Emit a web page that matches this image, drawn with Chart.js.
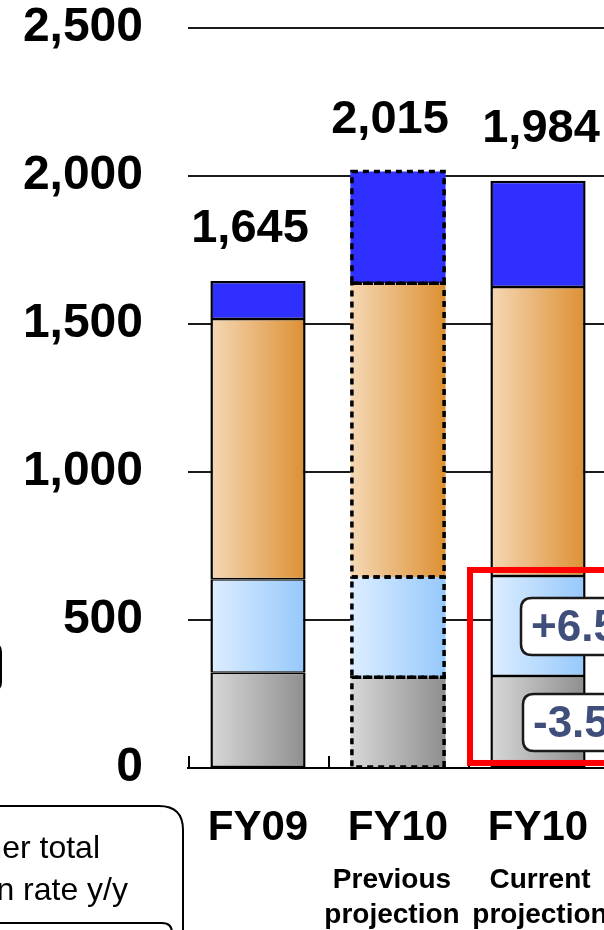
<!DOCTYPE html>
<html>
<head>
<meta charset="utf-8">
<script src="https://cdn.jsdelivr.net/npm/chart.js@4.4.1/dist/chart.umd.min.js"></script>
<style>
  html, body { margin: 0; padding: 0; background: #fff; overflow: hidden; }
  #wrap { width: 604px; height: 930px; overflow: hidden; position: relative; }
  canvas { display: block; }
</style>
</head>
<body>
<div id="wrap"><canvas id="c" width="620" height="960"></canvas></div>
<script>
// ---- data ----
const categories = ['FY09', 'FY10', 'FY10'];
const subLabels = [[], ['Previous', 'projection'], ['Current', 'projection']];
const totals = [1645, 2015, 1984];
const baseSeg = [322, 307, 311];     // grey
const lowerSeg = [316, 338, 338];    // light blue
const middleSeg = [879, 993, 976];   // orange
const topSeg = [128, 377, 359];      // blue
const yTicks = [0, 500, 1000, 1500, 2000, 2500];
const changeLabels = ['+6.5%', '-3.5%'];   // light blue / grey change, current projection

const FONT = "'Liberation Sans', Arial, Helvetica, sans-serif";
Chart.defaults.font.family = FONT;
Chart.defaults.color = '#000';

const PROJ_PREV = 1;   // dotted (previous projection) bar
const PROJ_CUR = 2;    // highlighted bar
const BAR_PCT = 0.68;

function barHalf(chart) {
  const x = chart.scales.x;
  return x.width / categories.length * BAR_PCT / 2;
}

// left-to-right shading across each bar
function hGradient(c0, c1) {
  return (ctx) => {
    const chart = ctx.chart;
    const x = chart.scales && chart.scales.x;
    if (!x || ctx.type !== 'data' || !x.width) return c1;
    const cx = x.getPixelForValue(ctx.dataIndex);
    const h = barHalf(chart);
    const g = chart.ctx.createLinearGradient(cx - h, 0, cx + h, 0);
    g.addColorStop(0, c0);
    g.addColorStop(1, c1);
    return g;
  };
}

function borderFor(isTop) {
  return (ctx) => ctx.dataIndex === PROJ_PREV ? 0
    : { left: 2.5, right: 2.5, top: isTop ? 2.5 : 1.5, bottom: 1.5 };
}

function roundRect(ctx, x, y, w, h, r) {
  ctx.beginPath();
  ctx.moveTo(x + r, y);
  ctx.lineTo(x + w - r, y);
  ctx.quadraticCurveTo(x + w, y, x + w, y + r);
  ctx.lineTo(x + w, y + h - r);
  ctx.quadraticCurveTo(x + w, y + h, x + w - r, y + h);
  ctx.lineTo(x + r, y + h);
  ctx.quadraticCurveTo(x, y + h, x, y + h - r);
  ctx.lineTo(x, y + r);
  ctx.quadraticCurveTo(x, y, x + r, y);
  ctx.closePath();
}

const decorations = {
  id: 'decorations',
  afterDatasetsDraw(chart) {
    const { ctx, scales: { x, y }, chartArea } = chart;
    const catW = x.width / categories.length;
    ctx.save();

    // dotted outlines on the previous-projection bar
    ctx.strokeStyle = '#000';
    ctx.lineWidth = 3.5;
    ctx.setLineDash([6, 5]);
    chart.data.datasets.forEach((ds, di) => {
      const el = chart.getDatasetMeta(di).data[PROJ_PREV];
      if (!el) return;
      const l = el.x - el.width / 2 + 1.5, r = el.x + el.width / 2 - 1.5;
      const t = Math.min(el.y, el.base), b = Math.max(el.y, el.base);
      ctx.strokeRect(l, t, r - l, b - t);
    });
    ctx.setLineDash([]);

    // short upward ticks at category boundaries
    ctx.lineWidth = 2;
    ctx.beginPath();
    for (let i = 0; i <= categories.length; i++) {
      const bx = Math.round(x.getPixelForValue(0) - catW / 2 + i * catW) + 1;
      ctx.moveTo(bx, chartArea.bottom);
      ctx.lineTo(bx, chartArea.bottom - 12);
    }
    ctx.stroke();

    // totals above bars
    ctx.fillStyle = '#000';
    ctx.font = 'bold 47px ' + FONT;
    ctx.textAlign = 'center';
    ctx.textBaseline = 'alphabetic';
    const labelShift = [-8, -8, 3];
    totals.forEach((t, i) => {
      ctx.fillText(t.toLocaleString('en-US'), x.getPixelForValue(i) + labelShift[i], y.getPixelForValue(t) - 39);
    });

    // red highlight frame around the current projection's lower segments
    const fx = x.getPixelForValue(PROJ_CUR) - catW / 2 + 2;
    const fTop = y.getPixelForValue(669), fBot = y.getPixelForValue(17);
    ctx.strokeStyle = '#FF0000';
    ctx.lineWidth = 6;
    ctx.strokeRect(fx, fTop, 300, fBot - fTop);

    // change call-outs on the current projection bar
    const cx = x.getPixelForValue(PROJ_CUR);
    const segMid = [
      (baseSeg[PROJ_CUR] + baseSeg[PROJ_CUR] + lowerSeg[PROJ_CUR]) / 2,
      baseSeg[PROJ_CUR] / 2
    ];
    changeLabels.forEach((txt, k) => {
      const my = y.getPixelForValue(segMid[k]);
      const bx = cx - 17 + (k === 1 ? 2 : 0);
      roundRect(ctx, bx, my - 28, 140, 57, 11);
      ctx.fillStyle = '#fff';
      ctx.fill();
      ctx.strokeStyle = '#1a1a1a';
      ctx.lineWidth = 2.5;
      ctx.stroke();
      ctx.fillStyle = '#3F4E7B';
      ctx.font = 'bold 44px ' + FONT;
      ctx.textAlign = 'left';
      ctx.textBaseline = 'middle';
      ctx.fillText(txt, bx + 10, my + 3);
    });
    ctx.restore();
  },
  afterDraw(chart) {
    const { ctx, scales: { x }, chartArea } = chart;
    ctx.save();
    // second-level category captions
    ctx.fillStyle = '#000';
    ctx.font = 'bold 28px ' + FONT;
    ctx.textAlign = 'center';
    ctx.textBaseline = 'alphabetic';
    const capShift = [0, -6, 2];
    subLabels.forEach((lines, i) => {
      lines.forEach((line, j) => {
        ctx.fillText(line, x.getPixelForValue(i) + capShift[i], chartArea.bottom + 120 + j * 35);
      });
    });

    // side boxes
    ctx.strokeStyle = '#000';
    ctx.lineWidth = 2;
    roundRect(ctx, -200, 644, 201, 46, 8);
    ctx.stroke();

    roundRect(ctx, -300, 806, 483, 300, 24);
    ctx.stroke();
    ctx.fillStyle = '#000';
    ctx.font = '32px ' + FONT;
    ctx.textAlign = 'right';
    ctx.fillText('Customer total', 100, 858);
    ctx.fillText('utilization rate y/y', 128, 900);

    roundRect(ctx, -300, 923, 472, 100, 10);
    ctx.stroke();
    ctx.restore();
  }
};

const seg = (label, data, c0, c1, isTop) => ({
  label, data,
  backgroundColor: hGradient(c0, c1),
  borderColor: '#000',
  borderWidth: borderFor(isTop),
  borderSkipped: false,
  barPercentage: BAR_PCT,
  categoryPercentage: 1
});

new Chart(document.getElementById('c'), {
  type: 'bar',
  data: {
    labels: categories,
    datasets: [
      seg('Base', baseSeg, '#D8D8D8', '#8E8E8E', false),
      seg('Lower', lowerSeg, '#DDEEFF', '#96C8FC', false),
      seg('Middle', middleSeg, '#F5D8B5', '#DD9033', false),
      Object.assign(seg('Upper', topSeg, '#2F2FFF', '#2F2FFF', true), { backgroundColor: '#2F2FFF' })
    ]
  },
  options: {
    responsive: false,
    animation: false,
    events: [],
    devicePixelRatio: 1,
    layout: { padding: { left: 0, top: 28, right: 12, bottom: 0 } },
    plugins: { legend: { display: false }, tooltip: { enabled: false } },
    scales: {
      x: {
        stacked: true,
        offset: true,
        grid: { display: false, drawTicks: false },
        border: { display: true, color: '#000', width: 2 },
        ticks: {
          autoSkip: false, maxRotation: 0, padding: 35,
          color: '#000',
          font: { size: 42, weight: 'bold', family: FONT }
        },
        afterFit: (s) => { s.height = 192; s.paddingLeft = 0; s.paddingRight = 0; }
      },
      y: {
        stacked: true,
        min: 0, max: 2500,
        grid: { color: '#1a1a1a', lineWidth: 2, drawTicks: false },
        border: { display: false },
        afterBuildTicks: (s) => { s.ticks = yTicks.map(v => ({ value: v })); },
        ticks: {
          padding: 45,
          color: '#000',
          font: { size: 48, weight: 'bold', family: FONT },
          callback: (v) => Number(v).toLocaleString('en-US')
        },
        afterFit: (s) => { s.width = 188; s.paddingTop = 0; s.paddingBottom = 0; }
      }
    }
  },
  plugins: [decorations]
});
</script>
</body>
</html>
